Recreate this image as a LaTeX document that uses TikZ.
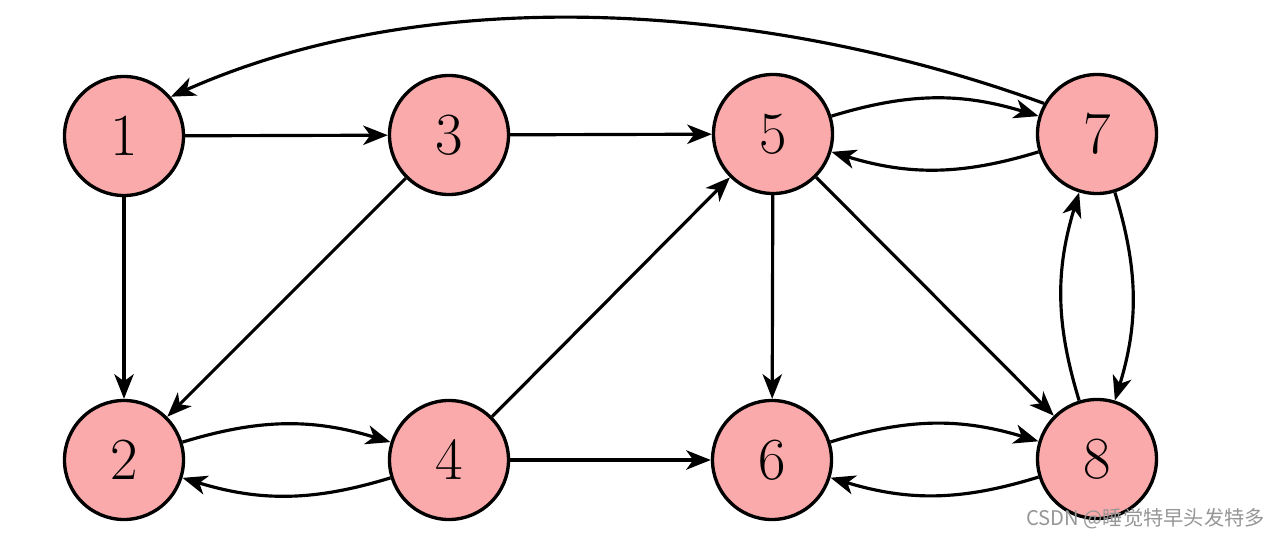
\documentclass[tikz,border=0pt]{standalone}
\usepackage{fontspec}
\newfontfamily\cjk{Noto Sans CJK SC}
\usetikzlibrary{arrows.meta}
\definecolor{nodepink}{RGB}{250,170,170}
\definecolor{wmgray}{RGB}{150,150,150}
\begin{document}
\begin{tikzpicture}[
  vtx/.style={circle, draw=black, line width=1.9pt, fill=nodepink, minimum size=2.38cm, inner sep=0pt, font=\fontsize{34}{36}\selectfont},
  edge/.style={-{Stealth[length=14pt,width=11pt,inset=4pt]}, line width=1.8pt, black},
  bendy/.style={edge, bend left=17}
]
\useasboundingbox (0,0) rectangle (25.6,10.76);
\node[vtx] (n1) at (2.48,8.04) {1};
\node[vtx] (n3) at (8.98,8.06) {3};
\node[vtx] (n5) at (15.46,8.08) {5};
\node[vtx] (n7) at (21.94,8.08) {7};
\node[vtx] (n2) at (2.48,1.56) {2};
\node[vtx] (n4) at (8.98,1.56) {4};
\node[vtx] (n6) at (15.44,1.56) {6};
\node[vtx] (n8) at (21.94,1.58) {8};

\draw[edge] (n1) -- (n3);
\draw[edge] (n3) -- (n5);
\draw[edge] (n1) -- (n2);
\draw[edge] (n3) -- (n2);
\draw[edge] (n4) -- (n5);
\draw[edge] (n4) -- (n6);
\draw[edge] (n5) -- (n6);
\draw[edge] (n5) -- (n8);
\draw[bendy] (n2) to (n4);
\draw[bendy] (n4) to (n2);
\draw[bendy] (n5) to (n7);
\draw[bendy] (n7) to (n5);
\draw[bendy] (n6) to (n8);
\draw[bendy] (n8) to (n6);
\draw[bendy] (n7) to (n8);
\draw[bendy] (n8) to (n7);
\draw[edge] (n7.150) .. controls +(160:5.8cm) and +(24:5.8cm) .. (n1.40);

\node[anchor=east, text=wmgray, font=\fontsize{11.5}{14}\selectfont\cjk, inner sep=0pt] (wm) at (25.3,0.38) {CSDN @睡觉特早头发特多};
\end{tikzpicture}
\end{document}
